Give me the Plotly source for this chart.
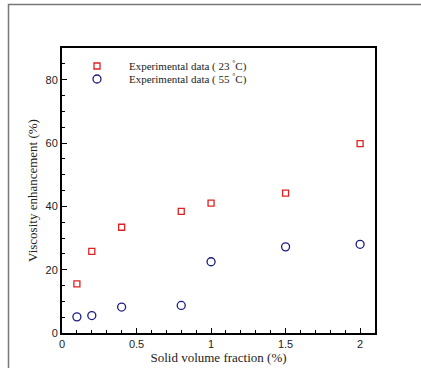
import plotly.graph_objects as go

x_vals = [0.1, 0.2, 0.4, 0.8, 1.0, 1.5, 2.0]
y_23 = [15.5, 25.8, 33.4, 38.4, 41.0, 44.2, 59.8]
y_55 = [5.1, 5.5, 8.2, 8.7, 22.5, 27.2, 28.0]
name_23 = "Experimental data ( 23 <sup>°</sup>C)"
name_55 = "Experimental data ( 55 <sup>°</sup>C)"

fig = go.Figure()
fig.add_trace(go.Scatter(x=x_vals, y=y_23, mode="markers", name=name_23, legend="legend",
                         marker=dict(symbol="square-open", size=6, color="#e02020",
                                     line=dict(width=1.3, color="#e02020"))))
fig.add_trace(go.Scatter(x=x_vals, y=y_55, mode="markers", name=name_55, legend="legend2",
                         marker=dict(symbol="circle-open", size=8, color="#1c1c80",
                                     line=dict(width=1.3, color="#1c1c80"))))

W, H = 421, 368
l, r, t, b = 62, 46, 48, 35
pw, ph = W - l - r, H - t - b

def px2paper_x(px):
    return (px - l) / pw

def py2paper_y(py):
    return (H - b - py) / ph

fig.add_shape(type="rect", xref="paper", yref="paper",
              x0=px2paper_x(8.5), x1=px2paper_x(440),
              y0=py2paper_y(390), y1=py2paper_y(4.5),
              line=dict(color="#777777", width=1.5), layer="below")

axis_common = dict(showline=True, linecolor="black", linewidth=2, mirror=True,
                   ticks="inside", ticklen=5, tickcolor="black", tickwidth=1,
                   showgrid=False, zeroline=False, automargin=False,
                   tickfont=dict(family="Liberation Sans, Arial", size=11, color="#222222"))

fig.update_xaxes(range=[0, 2.1], tickvals=[0, 0.5, 1, 1.5, 2], ticktext=["0", "0.5", "1", "1.5", "2"],
                 minor=dict(dtick=0.1, ticks="inside", ticklen=3, tickcolor="black"),
                 title=dict(text="Solid volume fraction (%)", standoff=0,
                            font=dict(family="Liberation Serif, Times New Roman", size=13, color="#222222")),
                 **axis_common)
fig.update_yaxes(range=[0, 90], tickvals=[0, 20, 40, 60, 80],
                 minor=dict(dtick=5, ticks="inside", ticklen=3, tickcolor="black"),
                 title=dict(text="Viscosity enhancement (%)", standoff=5,
                            font=dict(family="Liberation Serif, Times New Roman", size=13, color="#222222")),
                 **axis_common)

leg_common = dict(xanchor="left", yanchor="middle", bgcolor="rgba(0,0,0,0)", itemwidth=54,
                  font=dict(family="Liberation Serif, Times New Roman", size=11, color="#222222"))
fig.update_layout(
    width=W, height=H,
    margin=dict(l=l, r=r, t=t, b=b),
    paper_bgcolor="white", plot_bgcolor="white",
    showlegend=True,
    legend=dict(x=px2paper_x(65), y=py2paper_y(66), **leg_common),
    legend2=dict(x=px2paper_x(65), y=py2paper_y(79), **leg_common),
)

fig.write_html("out.html", config={"displayModeBar": False},
               post_script="document.body.style.margin='0';document.body.style.overflow='hidden';")
